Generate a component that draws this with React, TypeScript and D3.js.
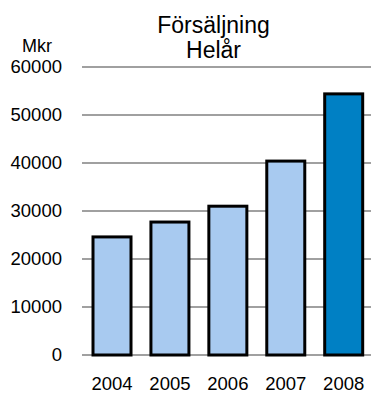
import React from "react";
import * as d3 from "d3";

const years = ["2004", "2005", "2006", "2007", "2008"];
const sales = [24600, 27700, 31000, 40400, 54400];
const highlight = [false, false, false, false, true];
const yTicks = [0, 10000, 20000, 30000, 40000, 50000, 60000];
const titleLines = ["Försäljning", "Helår"];
const unitLabel = "Mkr";

export default function App() {
  const W = 371;
  const H = 394;
  const font = "'Liberation Sans', Arial, sans-serif";
  const x = d3
    .scaleBand<string>()
    .domain(years)
    .range([82, 373.7])
    .paddingInner(0.344)
    .paddingOuter(0.19);
  const y = d3.scaleLinear().domain([0, 60000]).range([355, 67]);

  return (
    <svg
      width={W}
      height={H}
      style={{ position: "absolute", left: 0, top: 0, background: "#fff" }}
      fontFamily={font}
    >
      <rect x={0} y={0} width={W} height={H} fill="#fff" />
      {yTicks.map((t) => (
        <g key={t}>
          <line x1={82} x2={W} y1={y(t)} y2={y(t)} stroke="#808080" strokeWidth={1.3} />
          <text x={62} y={y(t)} dy="0.35em" textAnchor="end" fontSize={18.5} fill="#000">
            {t}
          </text>
        </g>
      ))}
      {years.map((yr, i) => (
        <rect
          key={yr}
          x={x(yr)!}
          y={y(sales[i])}
          width={x.bandwidth()}
          height={y(0) - y(sales[i])}
          fill={highlight[i] ? "#0080C4" : "#A8CAF0"}
          stroke="#000"
          strokeWidth={3}
        />
      ))}
      {years.map((yr) => (
        <text
          key={yr}
          x={x(yr)! + x.bandwidth() / 2}
          y={389.5}
          textAnchor="middle"
          fontSize={18.5}
          fill="#000"
        >
          {yr}
        </text>
      ))}
      <text x={37} y={51.5} textAnchor="middle" fontSize={18} fill="#000">
        {unitLabel}
      </text>
      {titleLines.map((l, i) => (
        <text key={l} x={213.5} y={32.5 + i * 25} textAnchor="middle" fontSize={23} fill="#000">
          {l}
        </text>
      ))}
    </svg>
  );
}
